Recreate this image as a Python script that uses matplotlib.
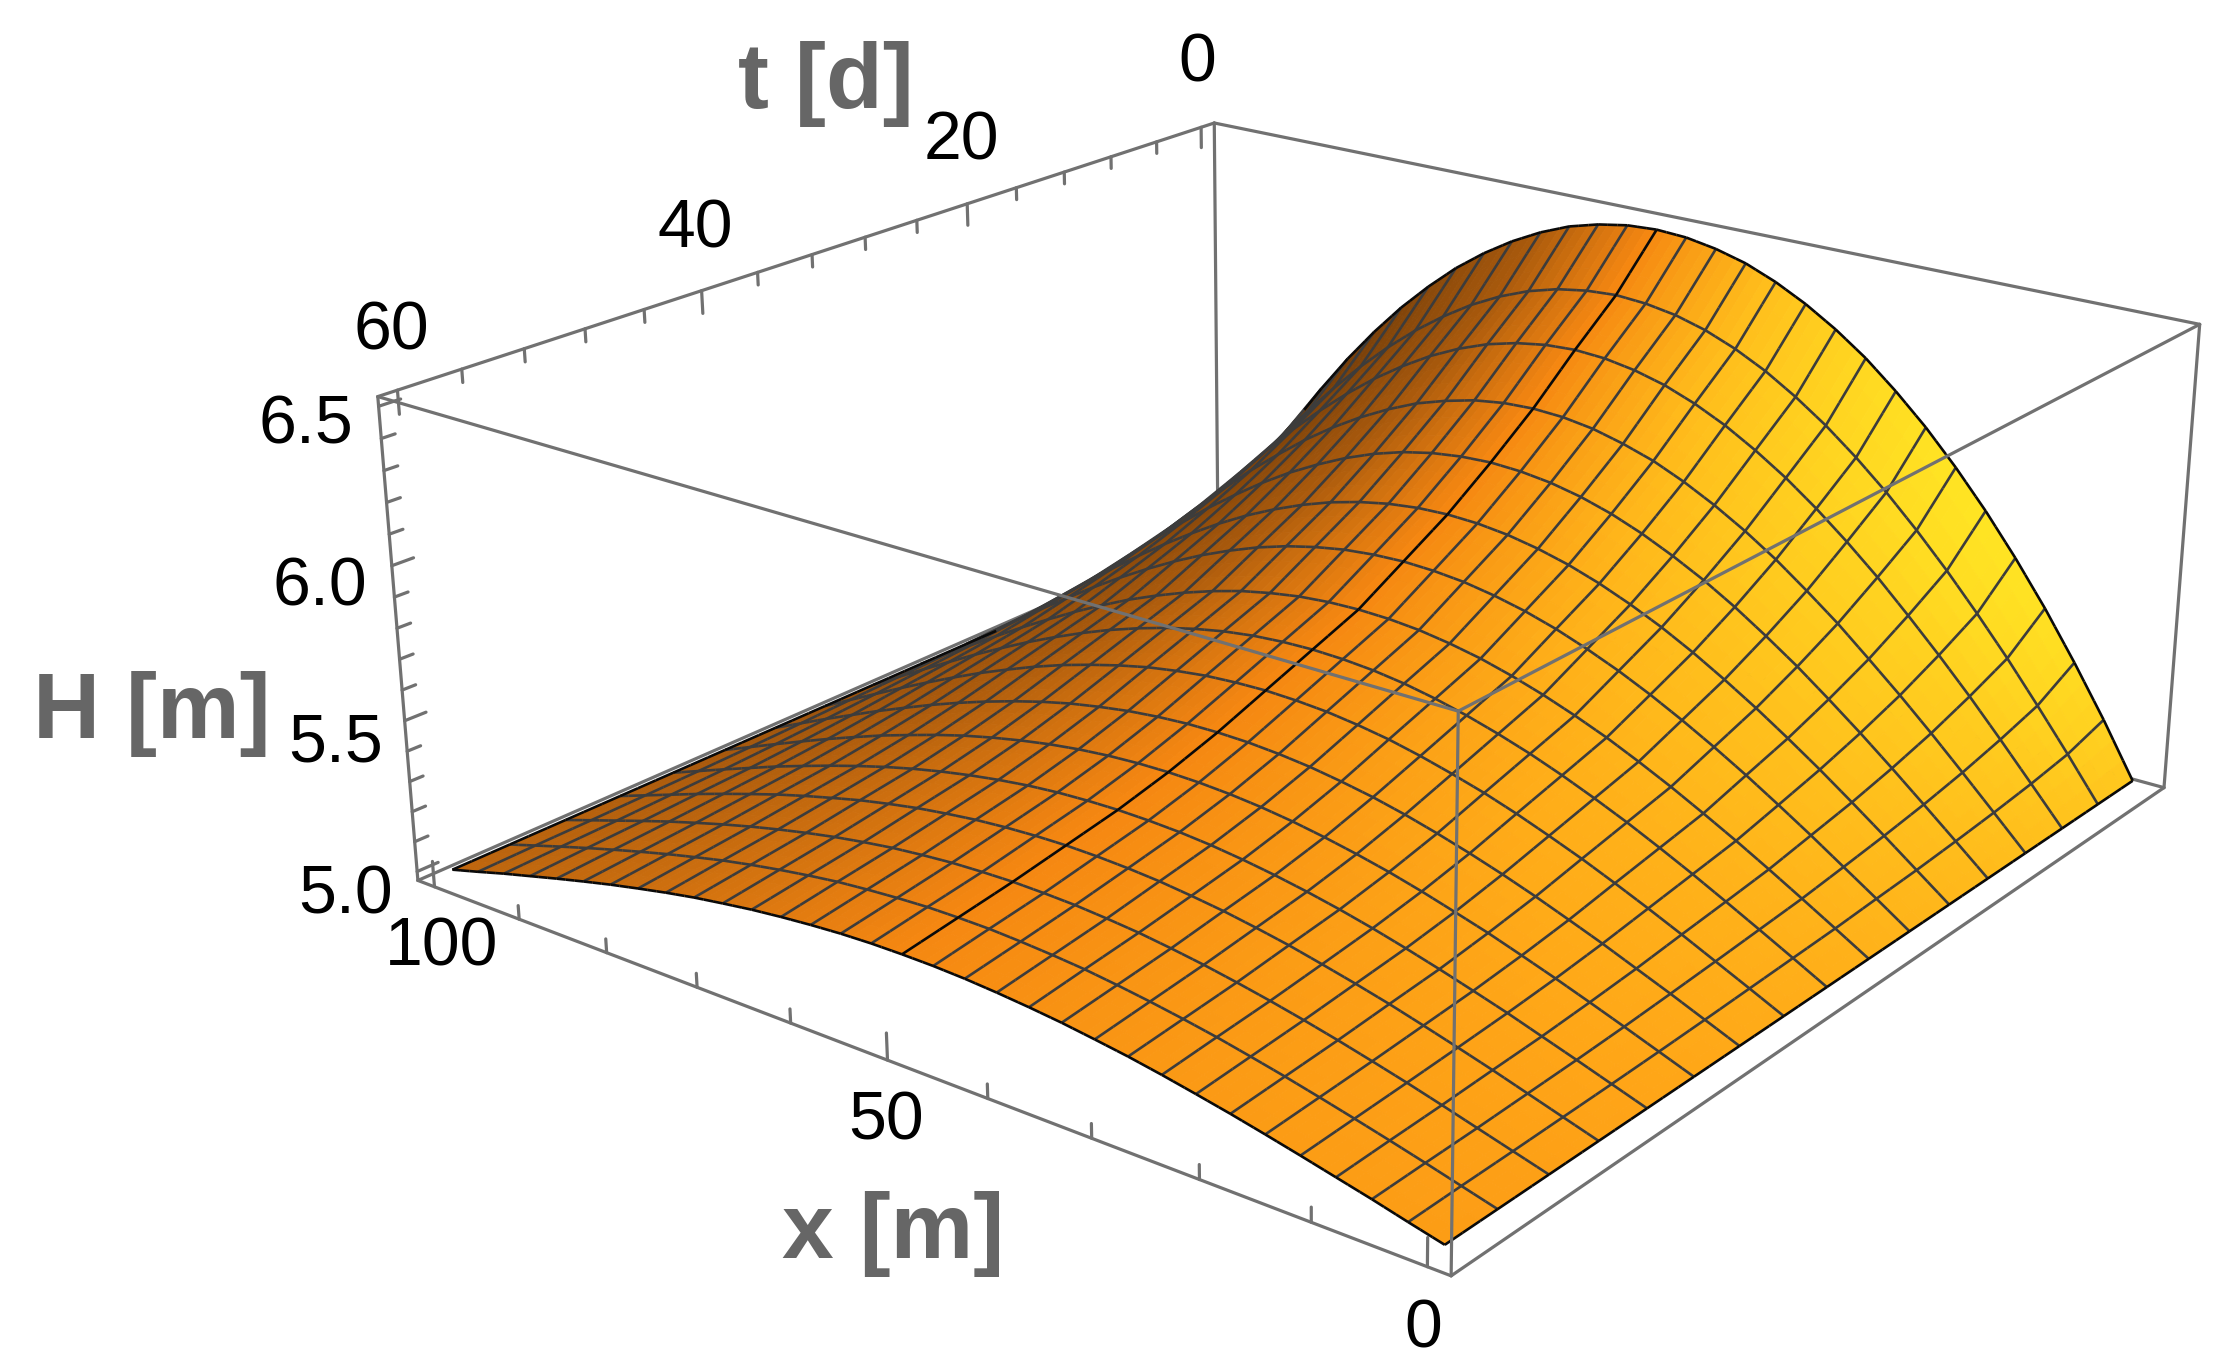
import numpy as np
import matplotlib
matplotlib.use("Agg")
import matplotlib.pyplot as plt
from mpl_toolkits.mplot3d import art3d

W, H_PX = 2233, 1371

# ---- data ----
x_nodes = [0, 3.125, 6.25, 9.375, 12.5, 15.625, 18.75, 21.875, 25, 28.125, 31.25, 34.375, 37.5, 40.625, 43.75, 46.875, 50,
           53.125, 56.25, 59.375, 62.5, 65.625, 68.75, 71.875, 75, 78.125, 81.25, 84.375, 87.5, 90.625, 93.75, 96.875, 100]
t_nodes = [0, 3.75, 7.5, 11.25, 15, 18.75, 22.5, 26.25, 30, 33.75, 37.5, 41.25, 45, 48.75, 52.5, 56.25, 60]
H_t00 = [5, 5.182, 5.351, 5.510, 5.656, 5.791, 5.914, 6.026, 6.125, 6.214, 6.289, 6.353, 6.406, 6.448, 6.476, 6.494, 6.500, 6.494, 6.476, 6.448, 6.406, 6.353, 6.289, 6.214, 6.125, 6.026, 5.914, 5.791, 5.656, 5.510, 5.351, 5.182, 5]
H_t04 = [5, 5.142, 5.279, 5.412, 5.537, 5.656, 5.767, 5.870, 5.963, 6.047, 6.120, 6.184, 6.236, 6.277, 6.306, 6.323, 6.330, 6.323, 6.306, 6.277, 6.236, 6.184, 6.120, 6.047, 5.963, 5.870, 5.767, 5.656, 5.537, 5.412, 5.279, 5.142, 5]
H_t08 = [5, 5.121, 5.241, 5.358, 5.469, 5.575, 5.677, 5.770, 5.856, 5.934, 6.002, 6.062, 6.111, 6.150, 6.177, 6.194, 6.200, 6.194, 6.177, 6.150, 6.111, 6.062, 6.002, 5.934, 5.856, 5.770, 5.677, 5.575, 5.469, 5.358, 5.241, 5.121, 5]
H_t11 = [5, 5.105, 5.209, 5.311, 5.409, 5.502, 5.593, 5.675, 5.753, 5.822, 5.883, 5.936, 5.981, 6.014, 6.040, 6.055, 6.060, 6.055, 6.040, 6.014, 5.981, 5.936, 5.883, 5.822, 5.753, 5.675, 5.593, 5.502, 5.409, 5.311, 5.209, 5.105, 5]
H_t15 = [5, 5.092, 5.183, 5.273, 5.360, 5.443, 5.523, 5.596, 5.665, 5.727, 5.781, 5.829, 5.869, 5.900, 5.922, 5.935, 5.940, 5.935, 5.922, 5.900, 5.869, 5.829, 5.781, 5.727, 5.665, 5.596, 5.523, 5.443, 5.360, 5.273, 5.183, 5.092, 5]
H_t19 = [5, 5.081, 5.162, 5.241, 5.318, 5.391, 5.461, 5.526, 5.587, 5.642, 5.690, 5.732, 5.767, 5.794, 5.814, 5.826, 5.830, 5.826, 5.814, 5.794, 5.767, 5.732, 5.690, 5.642, 5.587, 5.526, 5.461, 5.391, 5.318, 5.241, 5.162, 5.081, 5]
H_t23 = [5, 5.073, 5.144, 5.215, 5.283, 5.349, 5.411, 5.469, 5.523, 5.572, 5.615, 5.653, 5.684, 5.708, 5.726, 5.736, 5.740, 5.736, 5.726, 5.708, 5.684, 5.653, 5.615, 5.572, 5.523, 5.469, 5.411, 5.349, 5.283, 5.215, 5.144, 5.073, 5]
H_t26 = [5, 5.064, 5.127, 5.189, 5.249, 5.306, 5.361, 5.412, 5.460, 5.502, 5.540, 5.573, 5.601, 5.622, 5.638, 5.647, 5.650, 5.647, 5.638, 5.622, 5.601, 5.573, 5.540, 5.502, 5.460, 5.412, 5.361, 5.306, 5.249, 5.189, 5.127, 5.064, 5]
H_t30 = [5, 5.058, 5.115, 5.171, 5.226, 5.278, 5.328, 5.374, 5.417, 5.456, 5.490, 5.520, 5.545, 5.565, 5.579, 5.587, 5.590, 5.587, 5.579, 5.565, 5.545, 5.520, 5.490, 5.456, 5.417, 5.374, 5.328, 5.278, 5.226, 5.171, 5.115, 5.058, 5]
H_t34 = [5, 5.052, 5.103, 5.154, 5.203, 5.250, 5.295, 5.336, 5.375, 5.410, 5.440, 5.467, 5.490, 5.507, 5.520, 5.527, 5.530, 5.527, 5.520, 5.507, 5.490, 5.467, 5.440, 5.410, 5.375, 5.336, 5.295, 5.250, 5.203, 5.154, 5.103, 5.052, 5]
H_t38 = [5, 5.046, 5.092, 5.136, 5.180, 5.221, 5.261, 5.298, 5.332, 5.363, 5.391, 5.415, 5.434, 5.450, 5.461, 5.468, 5.470, 5.468, 5.461, 5.450, 5.434, 5.415, 5.391, 5.363, 5.332, 5.298, 5.261, 5.221, 5.180, 5.136, 5.092, 5.046, 5]
H_t41 = [5, 5.041, 5.082, 5.122, 5.161, 5.198, 5.234, 5.266, 5.297, 5.325, 5.349, 5.370, 5.388, 5.402, 5.412, 5.418, 5.420, 5.418, 5.412, 5.402, 5.388, 5.370, 5.349, 5.325, 5.297, 5.266, 5.234, 5.198, 5.161, 5.122, 5.082, 5.041, 5]
H_t45 = [5, 5.037, 5.074, 5.110, 5.146, 5.179, 5.211, 5.241, 5.269, 5.294, 5.316, 5.335, 5.351, 5.364, 5.373, 5.378, 5.380, 5.378, 5.373, 5.364, 5.351, 5.335, 5.316, 5.294, 5.269, 5.241, 5.211, 5.179, 5.146, 5.110, 5.074, 5.037, 5]
H_t49 = [5, 5.034, 5.068, 5.102, 5.134, 5.165, 5.195, 5.222, 5.247, 5.271, 5.291, 5.309, 5.323, 5.335, 5.343, 5.348, 5.350, 5.348, 5.343, 5.335, 5.323, 5.309, 5.291, 5.271, 5.247, 5.222, 5.195, 5.165, 5.134, 5.102, 5.068, 5.034, 5]
H_t53 = [5, 5.031, 5.062, 5.093, 5.123, 5.151, 5.178, 5.203, 5.226, 5.247, 5.266, 5.282, 5.296, 5.306, 5.314, 5.318, 5.320, 5.318, 5.314, 5.306, 5.296, 5.282, 5.266, 5.247, 5.226, 5.203, 5.178, 5.151, 5.123, 5.093, 5.062, 5.031, 5]
H_t56 = [5, 5.029, 5.058, 5.086, 5.113, 5.139, 5.164, 5.187, 5.209, 5.228, 5.245, 5.260, 5.273, 5.282, 5.289, 5.294, 5.295, 5.294, 5.289, 5.282, 5.273, 5.260, 5.245, 5.228, 5.209, 5.187, 5.164, 5.139, 5.113, 5.086, 5.058, 5.029, 5]
H_t60 = [5, 5.026, 5.053, 5.078, 5.103, 5.127, 5.150, 5.171, 5.191, 5.209, 5.224, 5.238, 5.249, 5.258, 5.265, 5.269, 5.270, 5.269, 5.265, 5.258, 5.249, 5.238, 5.224, 5.209, 5.191, 5.171, 5.150, 5.127, 5.103, 5.078, 5.053, 5.026, 5]

x_major = [0, 50, 100]
x_minor = [10, 20, 30, 40, 60, 70, 80, 90]
t_major = [0, 20, 40, 60]
t_minor = [4, 8, 12, 16, 24, 28, 32, 36, 44, 48, 52, 56]
H_major = [5.0, 5.5, 6.0, 6.5]
H_minor = [5.1, 5.2, 5.3, 5.4, 5.6, 5.7, 5.8, 5.9, 6.1, 6.2, 6.3, 6.4]

xlo, xhi, tlo, thi, zlo, zhi = -2.0, 102.0, -1.2, 61.2, 4.97, 6.53

# box corners (x, t, z) -> where they sit in the picture, in pixels
corner_world = [(xhi, thi, zhi), (xhi, thi, zlo), (xlo, thi, zhi), (xlo, thi, zlo),
                (xlo, tlo, zhi), (xlo, tlo, zlo), (xhi, tlo, zhi)]
corner_pixel = [(378, 396), (418, 881), (1458, 711), (1451, 1276),
                (2200, 325), (2164, 787), (1214, 123)]

GRAY = "#717171"
MESH = "#3c3c3c"
TXT_GRAY = "#666666"

plt.rcParams["font.family"] = ["Liberation Sans", "DejaVu Sans"]
fig = plt.figure(figsize=(W / 100, H_PX / 100), dpi=100, facecolor="white")
r = W / H_PX
ax = fig.add_axes([0, (1 - r) / 2, 1, r], projection="3d", computed_zorder=False)
ax.set_axis_off()

# ---- camera from the box corners (direct linear transform) ----
scale = np.array([[1 / 100, 0, 0, 0], [0, 1 / 60, 0, 0], [0, 0, 1 / 1.5, -5 / 1.5], [0, 0, 0, 1]])
rows = []
for (wx, wt, wz), (px, py) in zip(corner_world, corner_pixel):
    v = scale @ np.array([wx, wt, wz, 1.0])
    rows.append(np.r_[v, 0, 0, 0, 0, -px * v])
    rows.append(np.r_[0, 0, 0, 0, v, -py * v])
P = np.linalg.svd(np.array(rows))[2][-1].reshape(3, 4) @ scale
if (P[2] @ np.array([50, 30, 5.5, 1])) < 0:
    P = -P

ax.apply_aspect()
inv = ax.transData.inverted()
o = inv.transform((0, 0))
e = inv.transform((W, H_PX))
# pixel (px, py from the top) to the axes' own 2D coordinates
A = np.array([[(e[0] - o[0]) / W, 0, o[0]],
              [0, (o[1] - e[1]) / H_PX, e[1]],
              [0, 0, 1]])
uvw = A @ P
M = np.vstack([uvw[0], uvw[1], [0, 0, 0, -1.0], uvw[2]])
ax.get_proj = lambda: M
ax.M = M

# ---- surface ----
X = np.array(x_nodes, float)
T = np.array(t_nodes, float)
Z = np.array([H_t00, H_t04, H_t08, H_t11, H_t15, H_t19, H_t23, H_t26, H_t30,
              H_t34, H_t38, H_t41, H_t45, H_t49, H_t53, H_t56, H_t60], float)
XX, TT = np.meshgrid(X, T)

# shading from the surface normal, in box proportions
dHdt, dHdx = np.gradient(Z, T, X)
zs = 0.4 / (zhi - zlo)
Nx, Nt = -dHdx * 100 * zs, -dHdt * 60 * zs
norm = np.sqrt(Nx ** 2 + Nt ** 2 + 1)
nx, nt = Nx / norm, Nt / norm
Rc = np.interp(nx, [-1, -.3, 0, .3, .8], [255, 255, 245, 170, 95])
Gc = np.interp(nx, [-.8, -.3, 0, .3, .8], [200, 165, 135, 90, 50]) + 150 * np.clip(nt, 0, 1) * np.clip(-nx, 0, 1)
Bc = np.interp(Gc, [50, 140, 225], [8, 18, 35])
node_rgb = np.dstack([Rc, Gc, Bc]) / 255


def refine(a, n=3):
    """Bilinear split of every mesh cell, for the drawing of the facets."""
    ii = np.linspace(0, a.shape[0] - 1, (a.shape[0] - 1) * n + 1)
    jj = np.linspace(0, a.shape[1] - 1, (a.shape[1] - 1) * n + 1)
    i0 = np.minimum(ii.astype(int), a.shape[0] - 2)
    j0 = np.minimum(jj.astype(int), a.shape[1] - 2)
    fi = (ii - i0).reshape(-1, 1)
    fj = (jj - j0).reshape(1, -1)
    if a.ndim == 3:
        fi, fj = fi[..., None], fj[..., None]
    b = a[i0][:, j0] * (1 - fi) * (1 - fj) + a[i0 + 1][:, j0] * fi * (1 - fj)
    b = b + a[i0][:, j0 + 1] * (1 - fi) * fj + a[i0 + 1][:, j0 + 1] * fi * fj
    return b


Xf, Tf, Zf = refine(XX), refine(TT), refine(Z)
colf = np.clip(refine(node_rgb), 0, 1)
ax.plot_surface(Xf, Tf, Zf, facecolors=colf, rstride=1, cstride=1, shade=False,
                linewidth=0.6, antialiased=True, zorder=2)

# ---- mesh lines, without the parts hidden behind the hill ----
cam = np.linalg.svd(P)[2][-1]
cam = cam[:3] / cam[3]


def height(x, t):
    i = np.clip(np.searchsorted(T, t) - 1, 0, len(T) - 2)
    j = np.clip(np.searchsorted(X, x) - 1, 0, len(X) - 2)
    ft = (t - T[i]) / (T[i + 1] - T[i])
    fx = (x - X[j]) / (X[j + 1] - X[j])
    return (Z[i, j] * (1 - ft) * (1 - fx) + Z[i + 1, j] * ft * (1 - fx)
            + Z[i, j + 1] * (1 - ft) * fx + Z[i + 1, j + 1] * ft * fx)


def visible(p):
    s = np.linspace(0.002, 1, 1200)
    q = p[None, :] + s[:, None] * (cam - p)[None, :]
    inside = (q[:, 0] >= 0) & (q[:, 0] <= 100) & (q[:, 1] >= 0) & (q[:, 1] <= 60)
    q = q[inside]
    if len(q) == 0:
        return True
    return not np.any(q[:, 2] < height(q[:, 0], q[:, 1]) - 0.004)


def segments(xs, ts, zv, n=4):
    out = []
    for k in range(len(xs) - 1):
        for f0, f1 in zip(np.linspace(0, 1, n)[:-1], np.linspace(0, 1, n)[1:]):
            a = np.array([xs[k], ts[k], zv[k]]) * (1 - f0) + np.array([xs[k + 1], ts[k + 1], zv[k + 1]]) * f0
            b = np.array([xs[k], ts[k], zv[k]]) * (1 - f1) + np.array([xs[k + 1], ts[k + 1], zv[k + 1]]) * f1
            if visible((a + b) / 2):
                out.append([a, b])
    return out


mesh, edge = [], []
for i in range(len(T)):
    (edge if i in (0, len(T) - 1) else mesh).extend(segments(X, np.full_like(X, T[i]), Z[i]))
for j in range(len(X)):
    (edge if j in (0, len(X) - 1, 16) else mesh).extend(segments(np.full_like(T, X[j]), T, Z[:, j]))
ax.add_collection3d(art3d.Line3DCollection(mesh, colors=MESH, linewidths=1.9, zorder=2.5))
ax.add_collection3d(art3d.Line3DCollection(edge, colors="#0a0a0a", linewidths=1.9, zorder=2.6))

# ---- box ----
def box_line(p, q, z):
    ax.plot([p[0], q[0]], [p[1], q[1]], [p[2], q[2]], color=GRAY, lw=2.3, zorder=z, solid_capstyle="round")


b000 = (xlo, tlo, zlo)
for p, q in [((xhi, tlo, zhi), (xhi, tlo, zlo)), ((xhi, tlo, zlo), (xhi, thi, zlo)), ((xhi, tlo, zlo), b000)]:
    box_line(p, q, 1)
for p, q in [((xhi, thi, zhi), (xhi, thi, zlo)), ((xhi, thi, zlo), (xlo, thi, zlo)),
             ((xlo, thi, zlo), (xlo, tlo, zlo)), ((xlo, tlo, zlo), (xlo, tlo, zhi)),
             ((xlo, tlo, zhi), (xhi, tlo, zhi)), ((xhi, tlo, zhi), (xhi, thi, zhi)),
             ((xhi, thi, zhi), (xlo, thi, zhi)), ((xlo, thi, zhi), (xlo, tlo, zhi)),
             ((xlo, thi, zhi), (xlo, thi, zlo))]:
    box_line(p, q, 3)

# ---- ticks ----
for vals, ln in ((x_major, 0.085), (x_minor, 0.045)):
    for v in vals:
        box_line((v, thi, zlo), (v, thi, zlo + ln), 1.5)
for vals, ln in ((t_major, 0.075), (t_minor, 0.042)):
    for v in vals:
        box_line((xhi, v, zhi), (xhi, v, zhi - ln), 1.5)
for vals, ln in ((H_major, 1.35), (H_minor, 0.85)):
    for v in vals:
        box_line((xhi, thi, v), (xhi, thi - ln, v), 1.5)

# ---- text ----
def label(px, py, s, **kw):
    fig.text(px / W, 1 - py / H_PX, s, ha="center", va="center", **kw)


for px, py, s in [(306, 426, "6.5"), (320, 587, "6.0"), (336, 744, "5.5"), (346, 896, "5.0"),
                  (442, 947, "100"), (886, 1122, "50"), (1423, 1330, "0"),
                  (1197, 64, "0"), (961, 141, "20"), (695, 229, "40"), (391, 331, "60")]:
    label(px, py, s, fontsize=49, color="black")
for px, py, s in [(152, 714, "H [m]"), (826, 84, "t [d]"), (893, 1234, "x [m]")]:
    label(px, py, s, fontsize=67, color=TXT_GRAY, fontweight="bold")

fig.savefig("out.png", dpi=100, facecolor="white")
